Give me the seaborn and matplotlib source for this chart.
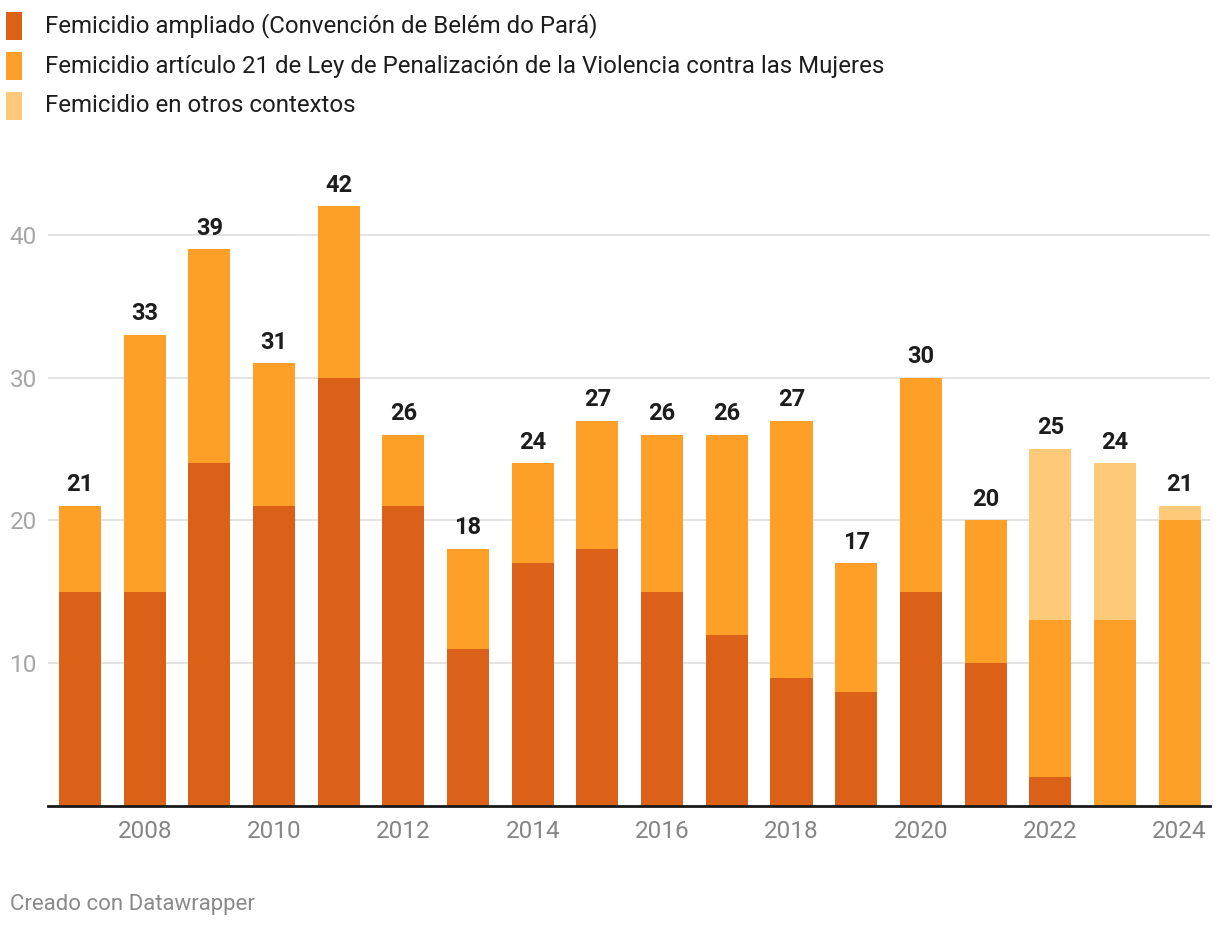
import matplotlib
matplotlib.use("Agg")
import matplotlib.pyplot as plt
from matplotlib.patches import Rectangle
import numpy as np
import pandas as pd
import seaborn as sns

# ── Datos ──────────────────────────────────────────────────────────────────
years = list(range(2007, 2025))
ampliado = [15, 15, 24, 21, 30, 21, 11, 17, 18, 15, 12, 9, 8, 15, 10, 2, 0, 0]
articulo21 = [6, 18, 15, 10, 12, 5, 7, 7, 9, 11, 14, 18, 9, 15, 10, 11, 13, 20]
otros = [0, 0, 0, 0, 0, 0, 0, 0, 0, 0, 0, 0, 0, 0, 0, 12, 11, 1]

series_names = [
    "Femicidio ampliado (Convención de Belém do Pará)",
    "Femicidio artículo 21 de Ley de Penalización de la Violencia contra las Mujeres",
    "Femicidio en otros contextos",
]
colors = ["#dc6118", "#fe9f27", "#fec978"]
y_ticks = [10, 20, 30, 40]

df = pd.DataFrame({"year": [str(y) for y in years],
                   "ampliado": ampliado, "art21": articulo21, "otros": otros})
df["lvl2"] = df["ampliado"] + df["art21"]
df["total"] = df["lvl2"] + df["otros"]

sns.set_theme(style="white")
plt.rcParams["font.family"] = ["Roboto", "DejaVu Sans"]

fig = plt.figure(figsize=(12.2, 9.3), dpi=100)
ax = fig.add_axes([48 / 1220, 1 - 806 / 930, (1210 - 48) / 1220, (806 - 149.3) / 930])

# stacked bars: draw cumulative layers from the top down
order = df["year"].tolist()
for col, c in zip(["total", "lvl2", "ampliado"], colors[::-1]):
    sns.barplot(data=df, x="year", y=col, order=order, color=c,
                width=0.65, saturation=1, ax=ax, zorder=2, linewidth=0)

# value labels on totals
for i, t in enumerate(df["total"]):
    ax.annotate(str(t), (i, t), xytext=(0, 7), textcoords="offset points",
                ha="center", va="bottom", fontsize=17, fontweight="bold",
                color="#1d1d1d")

ax.set_ylim(0, 46)
ax.set_xlim(-0.495, 17.47)
ax.set_yticks(y_ticks)
ax.set_yticklabels([str(v) for v in y_ticks])
ax.yaxis.grid(True, color="#e3e3e3", linewidth=1.4, zorder=0)
ax.set_axisbelow(True)

even_pos = [i for i, y in enumerate(years) if y % 2 == 0]
ax.set_xticks(even_pos)
ax.set_xticklabels([str(years[i]) for i in even_pos])
ax.tick_params(axis="x", length=0, pad=10, labelsize=17.5, labelcolor="#858585")
ax.tick_params(axis="y", length=0, pad=8, labelsize=17.5, labelcolor="#a6a6a6")
ax.set_xlabel("")
ax.set_ylabel("")

for s in ["top", "right", "left"]:
    ax.spines[s].set_visible(False)
ax.spines["bottom"].set_color("#1a1a1a")
ax.spines["bottom"].set_linewidth(2)
ax.spines["bottom"].set_zorder(5)

# legend (Datawrapper-style, top-left)
for k, (name, c) in enumerate(zip(series_names, colors)):
    yc = 26 + 40 * k
    fig.patches.append(Rectangle((6 / 1220, 1 - (yc + 14) / 930), 16 / 1220, 28 / 930,
                                 transform=fig.transFigure, facecolor=c,
                                 edgecolor="none"))
    fig.text(45 / 1220, 1 - yc / 930, name, ha="left", va="center",
             fontsize=17.3, color="#1d1d1d")

fig.text(10 / 1220, 1 - 904 / 930, "Creado con Datawrapper", ha="left",
         va="center", fontsize=16, color="#8a8a8a")

fig.savefig("out.png", dpi=100)
